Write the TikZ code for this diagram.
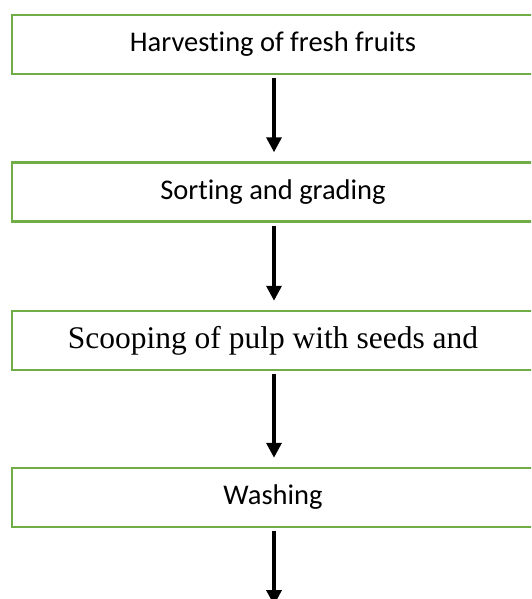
\documentclass[tikz,border=0pt]{standalone}
\usepackage{fontspec}
\setmainfont{Carlito}[Ligatures=NoCommon]
\newfontfamily\timesfont{Liberation Serif}
\usetikzlibrary{arrows.meta}
\definecolor{boxgreen}{RGB}{112,173,71}
\begin{document}
\begin{tikzpicture}[x=1pt,y=-1pt,
  stepbox/.style={draw=boxgreen, line width=2.5pt, fill=white, minimum width=522pt, minimum height=59pt, inner sep=0pt, font=\fontsize{28.5}{32}\selectfont},
  flow/.style={line width=3.5pt, -{Triangle[length=15pt,width=15pt]}, shorten <=3pt, shorten >=9pt}]
\useasboundingbox (0,0) rectangle (531,599);
\clip (0,0) rectangle (531,599);
\node[stepbox] (b1) at (273,44.5) {Harvesting of fresh fruits};
\node[stepbox] (b2) at (273,192) {Sorting and grading};
\node[stepbox, font=\timesfont\fontsize{31.5}{36}\selectfont] (b3) at (273,340.5) {Scooping of pulp with seeds and};
\node[stepbox] (b4) at (273,497.5) {Washing};
\coordinate (e) at (274,614);
\draw[flow] (b1.south -| 274,0) -- (b2.north -| 274,0);
\draw[flow] (b2.south -| 274,0) -- (b3.north -| 274,0);
\draw[flow] (b3.south -| 274,0) -- (b4.north -| 274,0);
\draw[flow] (b4.south -| 274,0) -- (e);
\end{tikzpicture}
\end{document}
